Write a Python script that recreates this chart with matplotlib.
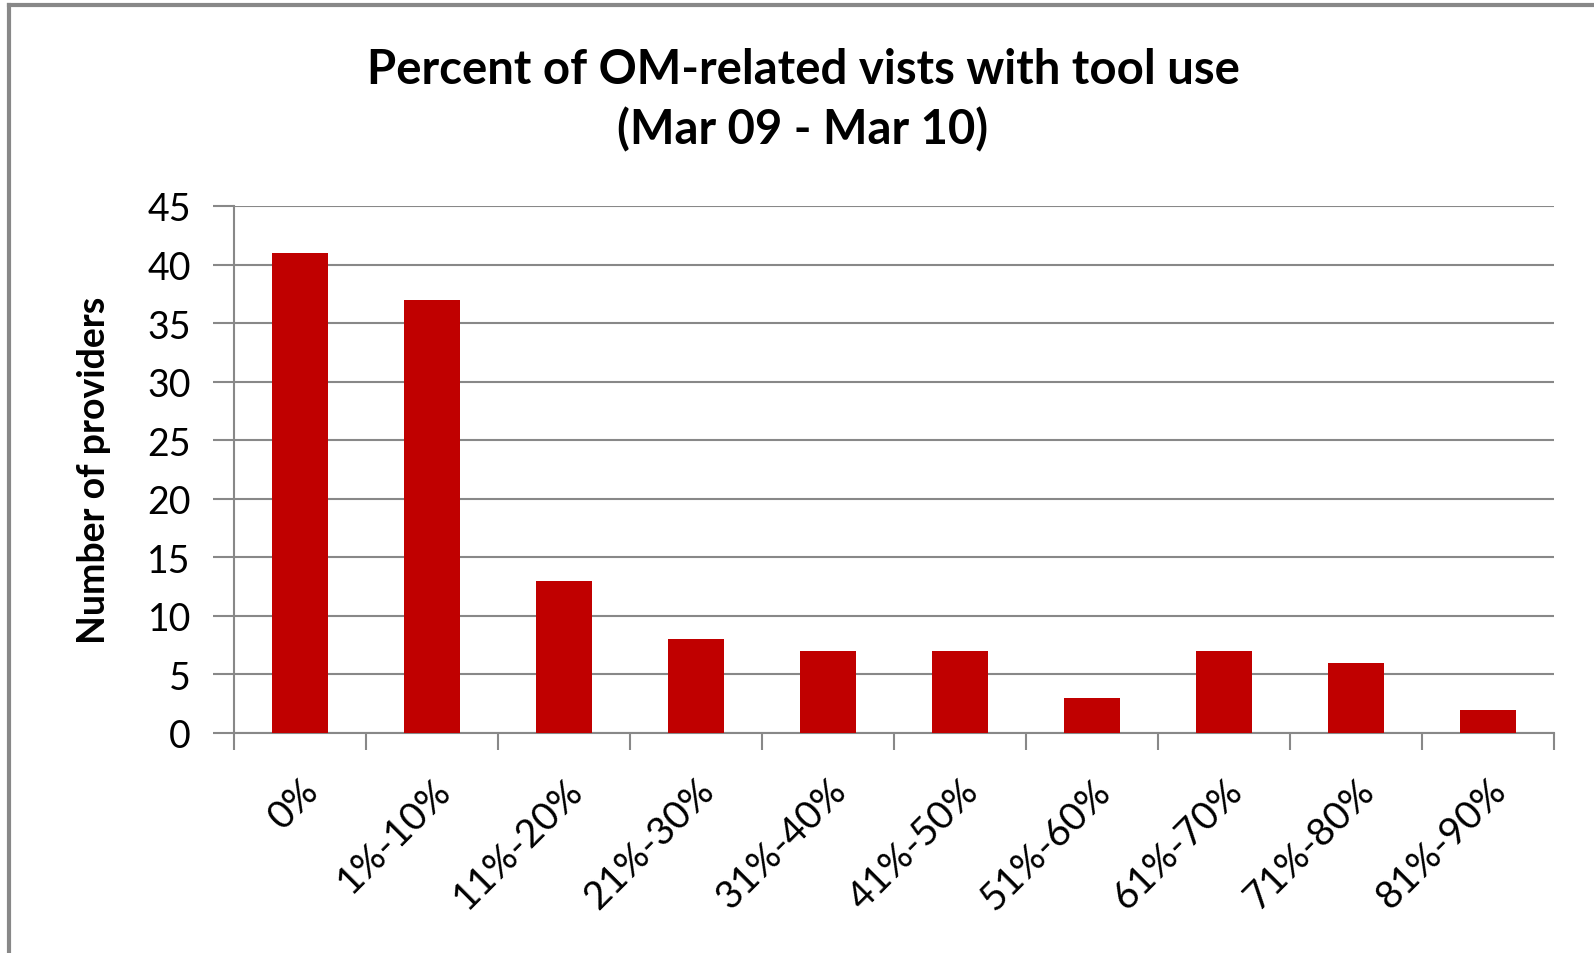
import matplotlib.pyplot as plt
import numpy as np

categories = ['0%', '1%-10%', '11%-20%', '21%-30%', '31%-40%',
              '41%-50%', '51%-60%', '61%-70%', '71%-80%', '81%-90%']
providers = [41, 37, 13, 8, 7, 7, 3, 7, 6, 2]

plt.rcParams['font.family'] = ['Lato', 'DejaVu Sans']

fig = plt.figure(figsize=(15.94, 9.54), dpi=100)
ax = fig.add_axes([234 / 1594, 1 - 734 / 954, (1554 - 234) / 1594, (734 - 207) / 954])

x = np.arange(len(categories))
ax.bar(x, providers, width=0.42, color='#C00000', zorder=3)

ax.set_xlim(-0.5, len(categories) - 0.5)
ax.set_ylim(0, 45)
ax.set_yticks(range(0, 46, 5))
ax.tick_params(axis='y', labelsize=27, length=15, color='#888888', width=1.5, pad=16)
ax.set_xticks(np.arange(len(categories) + 1) - 0.5)
ax.set_xticklabels([])
ax.tick_params(axis='x', length=12, color='#888888', width=1.5)
ax.set_xticks(x, minor=True)
ax.set_xticklabels(categories, minor=True, rotation=45, ha='right', va='top',
                   rotation_mode='anchor', fontsize=28)
ax.tick_params(axis='x', which='minor', length=0, pad=28)

ax.grid(axis='y', color='#888888', linewidth=1.5, zorder=0)
for s in ['top', 'right']:
    ax.spines[s].set_visible(False)
for s in ['left', 'bottom']:
    ax.spines[s].set_color('#888888')
    ax.spines[s].set_linewidth(1.5)

ax.set_ylabel('Number of providers', fontsize=27, fontweight='bold', labelpad=26)

fig.text(803 / 1594, 1 - 100 / 954, 'Percent of OM-related vists with tool use\n(Mar 09 - Mar 10)',
         ha='center', va='center', fontsize=34, fontweight='bold', linespacing=1.4)

# frame lines at left and top edge
fig.add_artist(plt.Line2D([9 / 1594, 9 / 1594], [0, 1 - 6 / 954], color='#888888', lw=3))
fig.add_artist(plt.Line2D([9 / 1594, 1], [1 - 6 / 954, 1 - 6 / 954], color='#888888', lw=3))

fig.savefig('out.png', dpi=100)
